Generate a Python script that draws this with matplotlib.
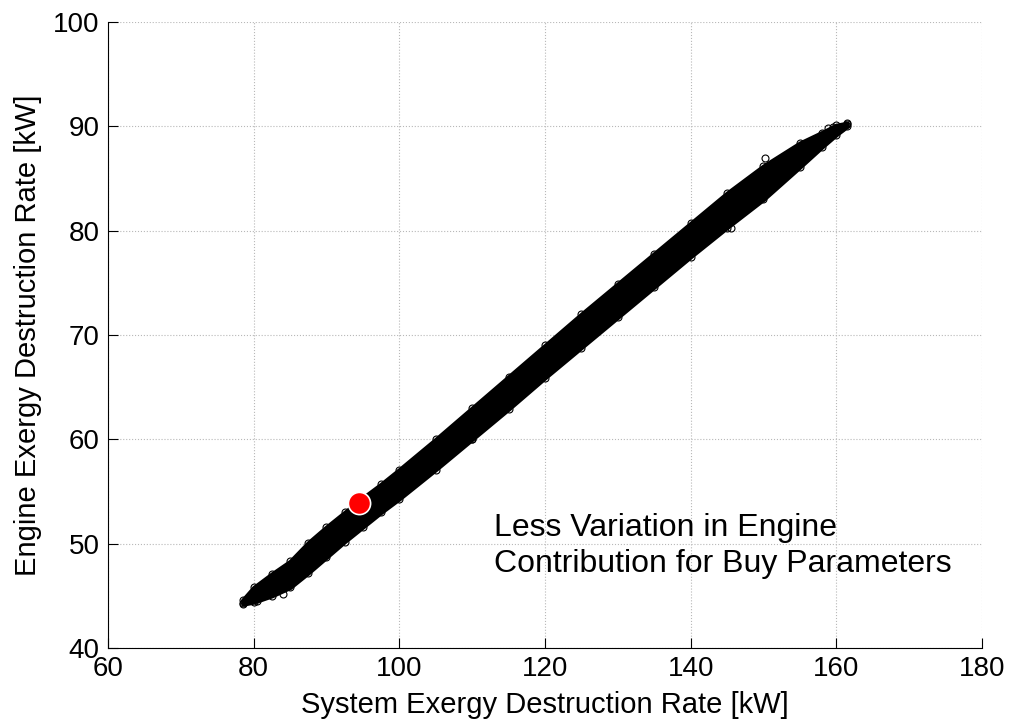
import matplotlib.pyplot as plt
import numpy as np

plt.rcParams['font.family'] = ['Liberation Sans', 'DejaVu Sans']

# band of simulated points, read off the picture as lower / upper edges
sys_x = [78.5, 80, 82.5, 85, 87.5, 90, 92.5, 95, 97.5, 100, 105, 110, 115, 120, 125,
         130, 135, 140, 145, 150, 155, 158, 160, 161.5]
eng_low = [44.2, 44.4, 45.0, 45.8, 47.2, 48.7, 50.2, 51.6, 53.0, 54.3, 57.1, 60.0,
           62.9, 65.9, 68.8, 71.7, 74.6, 77.5, 80.3, 83.0, 86.1, 88.0, 89.2, 90.0]
eng_high = [44.6, 45.8, 47.1, 48.3, 50.1, 51.6, 53.0, 54.4, 55.7, 57.1, 60.0, 63.0,
            66.0, 69.0, 72.0, 74.9, 77.8, 80.7, 83.6, 86.2, 88.4, 89.4, 90.1, 90.3]

# a few stray points visible at the ends of the cloud
stray_x = [78.6, 79.2, 80.5, 84.0, 110.0, 145.5, 150.2, 158.8, 159.6, 160.6, 161.5]
stray_y = [44.3, 44.6, 44.5, 45.2, 60.0, 80.3, 87.0, 89.8, 89.9, 89.8, 90.2]

# selected design
best_x = [94.5]
best_y = [53.9]

fig, ax = plt.subplots(figsize=(10.13, 7.25), dpi=100)
fig.subplots_adjust(left=0.1066, right=0.9694, bottom=0.1062, top=0.9697)

ax.fill_between(sys_x, eng_low, eng_high, color='black', linewidth=3,
                edgecolor='black', zorder=2)
ax.plot(sys_x, eng_low, 'o', mfc='none', mec='black', ms=5, mew=0.8, zorder=3)
ax.plot(sys_x, eng_high, 'o', mfc='none', mec='black', ms=5, mew=0.8, zorder=3)
ax.plot(stray_x, stray_y, 'o', mfc='none', mec='black', ms=5, mew=0.8, zorder=3)
ax.plot(best_x, best_y, 'o', color='red', mec='white', mew=1.2, ms=16, zorder=4)

ax.text(113, 49.8, 'Less Variation in Engine\nContribution for Buy Parameters',
        fontsize=23, va='center', ha='left', linespacing=1.25)

ax.set_xlim(60, 180)
ax.set_ylim(40, 100)
ax.set_xticks(np.arange(60, 181, 20))
ax.set_yticks(np.arange(40, 101, 10))
ax.grid(True, linestyle=':', color='#b8b8b8', linewidth=0.8)
ax.set_axisbelow(True)
ax.spines['top'].set_visible(False)
ax.spines['right'].set_visible(False)
ax.tick_params(direction='in', length=7, labelsize=20, pad=6)
ax.set_xlabel('System Exergy Destruction Rate [kW]', fontsize=21, labelpad=6)
ax.set_ylabel('Engine Exergy Destruction Rate [kW]', fontsize=21, labelpad=8)

plt.savefig('out.png', dpi=100)
